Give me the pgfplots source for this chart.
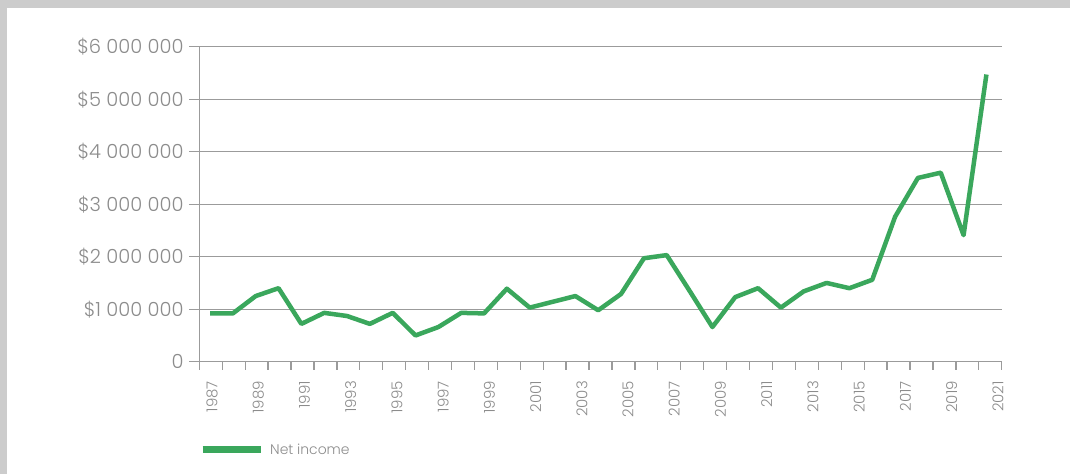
\documentclass[border=0pt]{standalone}
\usepackage{pgfplots}
\pgfplotsset{compat=1.18}
\usepackage{fontspec}
\setmainfont{Poppins}[UprightFont=* Light]
\definecolor{netgreen}{HTML}{3AA75C}
\definecolor{txtgray}{HTML}{8C8C8C}
\definecolor{axgray}{HTML}{9B9B9B}
\definecolor{frame}{HTML}{CCCCCC}

\begin{document}
\begin{tikzpicture}[x=1bp,y=1bp]
  % page frame
  \fill[frame] (0,0) rectangle (1070,474);
  \fill[white] (7,0) rectangle (1070,466);
  \useasboundingbox (0,0) rectangle (1070,474);
  \begin{axis}[
      at={(199.3bp,112.3bp)}, anchor=south west,
      scale only axis,
      width=802.4bp, height=315bp,
      xmin=1986.53, xmax=2021.67,
      ymin=0, ymax=6000000,
      scaled y ticks=false,
      axis x line=bottom, axis y line=left,
      axis line style={-, axgray, line width=1.3bp},
      tick align=outside,
      tick style={axgray, line width=1.3bp},
      xtick={1986.53,1987.534,...,2021.7},
      xticklabels={},
      x tick style={/pgfplots/major tick length=8bp},
      y tick style={/pgfplots/major tick length=10bp},
      extra x ticks={1987.09,1989.114,...,2021.6},
      extra x tick labels={1987,1989,1991,1993,1995,1997,1999,2001,2003,2005,2007,2009,2011,2013,2015,2017,2019,2021},
      extra x tick style={/pgfplots/major tick length=0pt,
        tick style={draw opacity=0},
        major tick style={draw opacity=0},
        xticklabel shift=16bp,
        tick label style={rotate=90, anchor=east, font=\fontsize{15}{17}\selectfont, text=txtgray}},
      ytick={0,1000000,2000000,3000000,4000000,5000000,6000000},
      yticklabels={0,\$1 000 000,\$2 000 000,\$3 000 000,\$4 000 000,\$5 000 000,\$6 000 000},
      yticklabel style={font=\fontsize{19.5}{21}\selectfont, text=txtgray},
      yticklabel shift=8bp,
      ymajorgrids,
      grid style={axgray, line width=1.3bp},
      legend style={at={(-0.0004,-0.279)}, anchor=west, draw=none, fill=none,
        font=\fontsize{14}{16}\selectfont, text=txtgray, inner sep=0pt,
        nodes={inner xsep=6bp}},
      legend image code/.code={\draw[netgreen, line width=7bp] (0bp,0bp) -- (58bp,0bp);},
    ]
    \addplot[netgreen, line width=4.5bp, line join=round] coordinates {
      (1987,920000) (1988,920000) (1989,1250000) (1990,1400000) (1991,720000)
      (1992,930000) (1993,870000) (1994,720000) (1995,930000) (1996,500000)
      (1997,660000) (1998,930000) (1999,920000) (2000,1390000) (2001,1030000)
      (2002,1140000) (2003,1250000) (2004,980000) (2005,1290000) (2006,1970000)
      (2007,2030000) (2008,1350000) (2009,660000) (2010,1230000) (2011,1400000)
      (2012,1030000) (2013,1340000) (2014,1500000) (2015,1400000) (2016,1560000)
      (2017,2760000) (2018,3500000) (2019,3600000) (2020,2410000) (2021,5470000)
    };
    \addlegendentry{Net income}
  \end{axis}
\end{tikzpicture}
\end{document}
